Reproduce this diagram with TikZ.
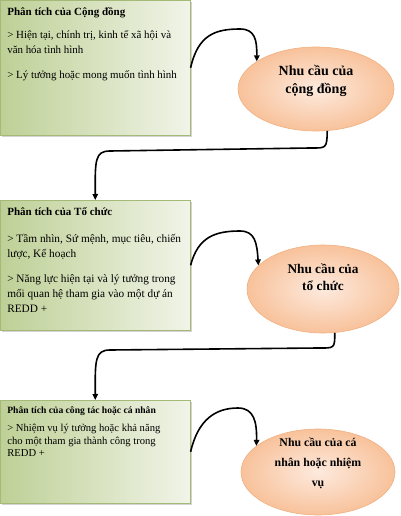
\documentclass[tikz,border=0pt]{standalone}
\usepackage{fontspec}
\setmainfont{Liberation Serif}
\usepackage{xcolor}
\definecolor{boxgreen}{RGB}{190,208,150}
\definecolor{boxlight}{RGB}{241,244,232}
\definecolor{boxedge}{RGB}{165,186,118}
\definecolor{peach}{RGB}{248,194,155}
\definecolor{peachlight}{RGB}{253,234,222}
\definecolor{peachedge}{RGB}{240,176,128}
\usepackage{tikz}
\usetikzlibrary{shapes.geometric}
\usetikzlibrary{positioning}
\usetikzlibrary{arrows.meta}
\usetikzlibrary{shadows}

\newcommand{\boxpanel}[2]{\parbox[t][#1][t]{176pt}{\raggedright #2}}

\tikzset{
  analysis/.style={draw=boxedge,line width=0.6pt,left color=boxgreen,right color=boxlight,
    anchor=north west,inner xsep=7pt,inner ysep=4pt,
    drop shadow={opacity=0.35,shadow xshift=1.5pt,shadow yshift=-1.5pt}},
  need/.style={ellipse,draw=peachedge,line width=0.6pt,inner color=peachlight,outer color=peach,
    inner sep=0pt},
  needtext/.style 2 args={align=center,font=\bfseries\fontsize{#1}{#2}\selectfont},
  flow/.style={line width=1.6pt,-{Triangle[length=6pt,width=5.5pt]}}
}

\begin{document}
\begin{tikzpicture}[x=1pt,y=-1pt]
\useasboundingbox (0,0) rectangle (401,516);
\node (cd) at (0,0) [analysis] {\boxpanel{127pt}{\fontsize{10.9}{15}\selectfont
\rule{0pt}{11pt}{\fontsize{11}{15}\selectfont\bfseries Phân tích của Cộng đồng}\par\vspace{8pt}
> Hiện tại, chính trị, kinh tế xã hội và\\văn hóa tình hình\par\vspace{10pt}
> Lý tưởng hoặc mong muốn tình hình}};
\node (tc) at (0,200) [analysis] {\boxpanel{122pt}{\fontsize{11.3}{15}\selectfont
\rule{0pt}{11pt}{\fontsize{11}{15}\selectfont\bfseries Phân tích của Tổ chức}\par\vspace{12pt}
> Tầm nhìn, Sứ mệnh, mục tiêu, chiến\\lược, Kế hoạch\par\vspace{10pt}
> Năng lực hiện tại và lý tưởng trong\\mối quan hệ tham gia vào một dự án\\REDD +}};
\node (cn) at (0,400) [analysis] {\boxpanel{95pt}{\fontsize{10.6}{12.5}\selectfont
\rule{0pt}{9pt}{\fontsize{9.6}{12.5}\selectfont\bfseries Phân tích của công tác hoặc cá nhân}\par\vspace{6pt}
> Nhiệm vụ lý tưởng hoặc khả năng\\cho một tham gia thành công trong\\REDD +}};
\node (cdneed) at (316,89) [need,minimum width=156pt,minimum height=84pt,
  label={[needtext={14}{18},yshift=8pt]center:{Nhu cầu của\\cộng đồng}}] {};
\node (tcneed) at (323,289) [need,minimum width=152pt,minimum height=88pt,
  label={[needtext={13.3}{17},yshift=12pt]center:{Nhu cầu của\\tổ chức}}] {};
\node (cnneed) at (318,472) [need,minimum width=154pt,minimum height=86pt,
  label={[needtext={11.8}{20},yshift=9pt]center:{Nhu cầu của cá\\nhân hoặc nhiệm\\vụ}}] {};
\draw[flow] (cd.east) .. controls (198,35) and (215,29) .. (240,29) .. controls (255,29) and (257,40) .. (cdneed.155);
\draw[flow] (cdneed.-75) .. controls (327,149) and (326,148) .. (310,148) -- (110,151) .. controls (95,151) and (95,160) .. (tc.north);
\draw[flow] (tc.east) .. controls (198,237) and (215,231) .. (240,231) .. controls (255,231) and (257,243) .. (tcneed.160);
\draw[flow] (tcneed.-75) .. controls (335,349) and (334,348) .. (318,348) -- (110,350) .. controls (95,350) and (95,360) .. (cn.north);
\draw[flow] (cn.east) .. controls (198,420) and (215,408) .. (238,408) .. controls (254,408) and (257,422) .. (cnneed.157);
\end{tikzpicture}
\end{document}
